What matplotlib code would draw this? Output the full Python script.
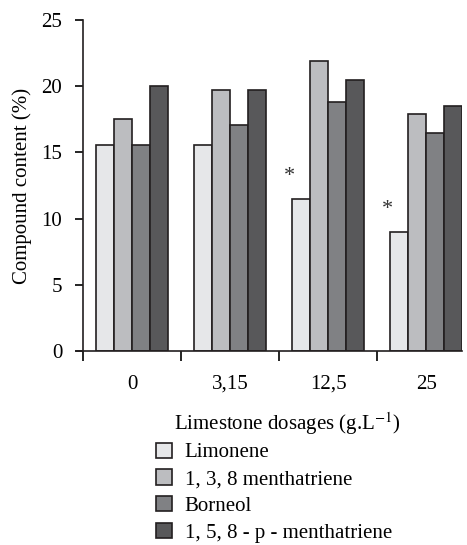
import numpy as np
import matplotlib.pyplot as plt
from matplotlib.patches import Patch

plt.rcParams['font.family'] = ['Liberation Serif', 'DejaVu Serif']
plt.rcParams['mathtext.fontset'] = 'stix'

# Data
dosages = ["0", "3,15", "12,5", "25"]
limonene = [15.6, 15.6, 11.5, 9.0]
menthatriene_138 = [17.5, 19.7, 21.9, 17.9]
borneol = [15.6, 17.1, 18.8, 16.5]
menthatriene_158 = [20.0, 19.7, 20.5, 18.5]
series_names = ["Limonene", "1, 3, 8 menthatriene", "Borneol", "1, 5, 8 - p - menthatriene"]
star_idx = [2, 3]  # groups flagged with *

colors = ["#e6e7e9", "#bcbdc0", "#808184", "#58585a"]
edge = "#231f20"
fs = 15

fig = plt.figure(figsize=(4.67, 5.45), dpi=100)
ax = fig.add_axes([0.1777, 0.356, 0.812, 0.607])

x = np.arange(len(dosages))
w = 0.182
all_series = [limonene, menthatriene_138, borneol, menthatriene_158]
for i, vals in enumerate(all_series):
    ax.bar(x + (i - 1.5) * w, vals, width=w, color=colors[i], edgecolor=edge,
           linewidth=1.2, label=series_names[i])

for g in star_idx:
    ax.text(x[g] - 1.5 * w - 0.12, limonene[g] + 1.7, "*", ha="center", va="center",
            fontsize=16, color="#333333")

ax.set_ylim(0, 25)
ax.set_xlim(-0.5, 3.368)
ax.set_yticks([0, 5, 10, 15, 20, 25])
ax.tick_params(axis="y", direction="out", length=6, width=1.2, labelsize=fs, pad=9)

ax.set_xticks([-0.5, 0.5, 1.5, 2.5])
ax.set_xticklabels([])
ax.set_xticks(x, minor=True)
ax.set_xticklabels(dosages, minor=True)
ax.tick_params(axis="x", which="major", direction="out", length=7, width=1.2)
ax.tick_params(axis="x", which="minor", length=0, labelsize=fs, pad=17)

for s in ["top", "right"]:
    ax.spines[s].set_visible(False)
for s in ["left", "bottom"]:
    ax.spines[s].set_linewidth(1.2)
    ax.spines[s].set_color(edge)
ax.spines["bottom"].set_bounds(-0.56, 3.368)

ax.set_ylabel("Compound content (%)", fontsize=fs, labelpad=7)
ax.set_xlabel("Limestone dosages (g.L$^{-1}$)", fontsize=fs)
ax.xaxis.set_label_coords(0.54, -0.22, transform=ax.transAxes)
ax.xaxis.label.set_va("center")

handles = [Patch(facecolor=colors[i], edgecolor=edge, linewidth=1.2) for i in range(4)]
fig.legend(handles, series_names, loc="upper left", bbox_to_anchor=(0.335, 0.188),
           frameon=False, fontsize=fs, handlelength=0.75, handleheight=0.75,
           handletextpad=0.6, labelspacing=0.33, borderpad=0, borderaxespad=0)

fig.savefig("out.png", dpi=100)
